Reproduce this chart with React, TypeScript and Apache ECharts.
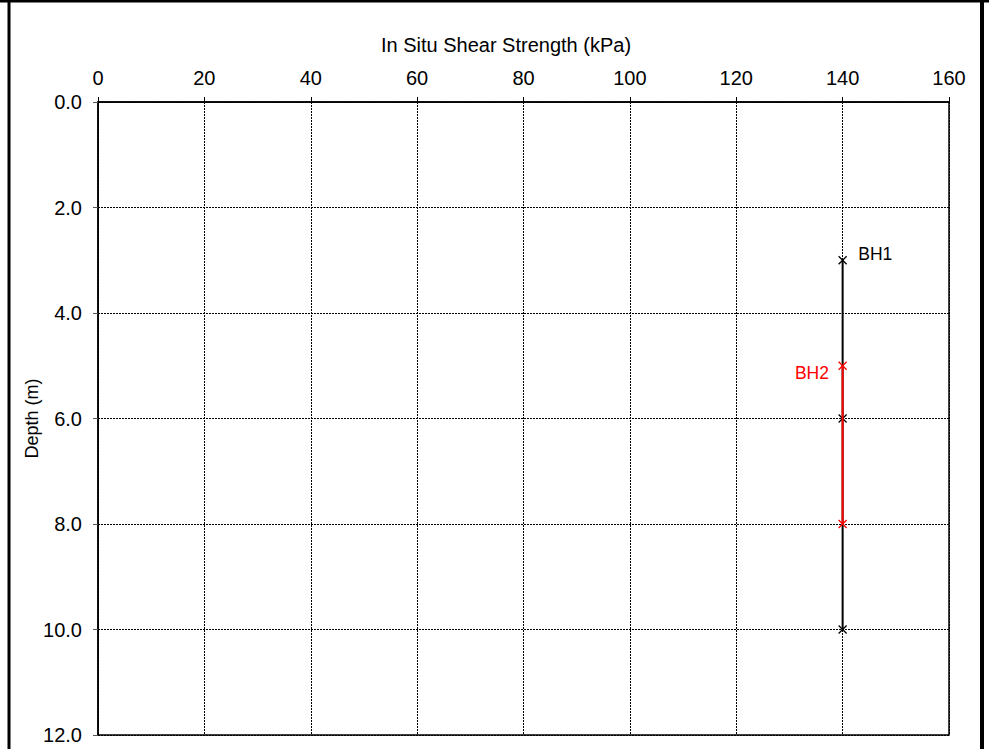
import React, { useEffect, useRef } from "react";
import * as echarts from "echarts";

const bh1Depth = [3, 6, 10];
const bh1Strength = [140, 140, 140];
const bh2Depth = [5, 8];
const bh2Strength = [140, 140];
const xTicks = [0, 20, 40, 60, 80, 100, 120, 140, 160];
const yTicks = [0, 2, 4, 6, 8, 10, 12];

const FONT = "Liberation Sans, Arial, sans-serif";
const CROSS = "path://M0,0L10,10M10,0L0,10";

export default function App() {
  const ref = useRef<HTMLDivElement>(null);
  useEffect(() => {
    const chart = echarts.init(ref.current!, null, { renderer: "svg" });
    const bh1 = bh1Depth.map((d, i) => [bh1Strength[i], d]);
    const bh2 = bh2Depth.map((d, i) => [bh2Strength[i], d]);
    chart.setOption({
      animation: false,
      backgroundColor: "#fff",
      textStyle: { fontFamily: FONT },
      grid: {
        left: 98,
        right: 40,
        top: 102,
        bottom: 14,
        show: true,
        borderColor: "#000",
        borderWidth: 1.5,
        containLabel: false,
      },
      xAxis: {
        type: "value",
        position: "top",
        min: xTicks[0],
        max: xTicks[xTicks.length - 1],
        interval: 20,
        name: "In Situ Shear Strength (kPa)",
        nameLocation: "middle",
        nameGap: 47,
        nameMoveOverlap: false,
        nameTextStyle: {
          color: "#000",
          fontSize: 20,
          fontFamily: FONT,
          padding: [0, 35, 0, 0],
        },
        axisLine: { show: true, lineStyle: { color: "#000", width: 1.5 } },
        axisTick: { show: true, length: 5, inside: false, lineStyle: { color: "#000" } },
        axisLabel: { color: "#000", fontSize: 20, margin: 14, fontFamily: FONT },
        splitLine: { show: true, lineStyle: { color: "#000", type: [2, 1], width: 1 } },
      },
      yAxis: {
        type: "value",
        inverse: true,
        min: yTicks[0],
        max: yTicks[yTicks.length - 1],
        interval: 2,
        name: "Depth (m)",
        nameLocation: "middle",
        nameGap: 57,
        nameMoveOverlap: false,
        nameRotate: 90,
        nameTextStyle: { color: "#000", fontSize: 18, fontFamily: FONT },
        axisLine: { show: true, lineStyle: { color: "#000", width: 1.5 } },
        axisTick: { show: true, length: 5, inside: false, lineStyle: { color: "#555" } },
        axisLabel: {
          color: "#000",
          fontSize: 20,
          margin: 16,
          fontFamily: FONT,
          formatter: (v: number) => v.toFixed(1),
        },
        splitLine: { show: true, lineStyle: { color: "#000", type: [2, 1], width: 1 } },
      },
      series: [
        {
          type: "line",
          data: bh1,
          symbol: CROSS,
          symbolSize: 8,
          lineStyle: { color: "#000", width: 2 },
          itemStyle: { color: "#000", borderColor: "#000", borderWidth: 1.3 },
          label: {
            show: true,
            formatter: (p: any) => (p.dataIndex === 0 ? "BH1" : ""),
            position: "right",
            distance: 11,
            offset: [0, -6],
            color: "#000",
            fontSize: 17.5,
            fontFamily: FONT,
          },
          z: 3,
        },
        {
          type: "line",
          data: bh2,
          symbol: CROSS,
          symbolSize: 8,
          lineStyle: { color: "#ff0000", width: 2 },
          itemStyle: { color: "#ff0000", borderColor: "#ff0000", borderWidth: 1.3 },
          label: {
            show: true,
            formatter: (p: any) => (p.dataIndex === 0 ? "BH2" : ""),
            position: "left",
            distance: 9,
            offset: [0, 7],
            color: "#ff0000",
            fontSize: 17.5,
            fontFamily: FONT,
          },
          z: 4,
        },
      ],
      graphic: [
        { type: "line", shape: { x1: 9, y1: 0, x2: 9, y2: 749 }, style: { stroke: "#000", lineWidth: 3 } },
        { type: "line", shape: { x1: 0, y1: 1, x2: 989, y2: 1 }, style: { stroke: "#000", lineWidth: 3 } },
        { type: "line", shape: { x1: 982, y1: 0, x2: 982, y2: 749 }, style: { stroke: "#000", lineWidth: 4 } },
      ],
    });
    return () => chart.dispose();
  }, []);
  return (
    <div
      ref={ref}
      style={{ position: "fixed", left: 0, top: 0, width: 989, height: 749, background: "#fff" }}
    />
  );
}
